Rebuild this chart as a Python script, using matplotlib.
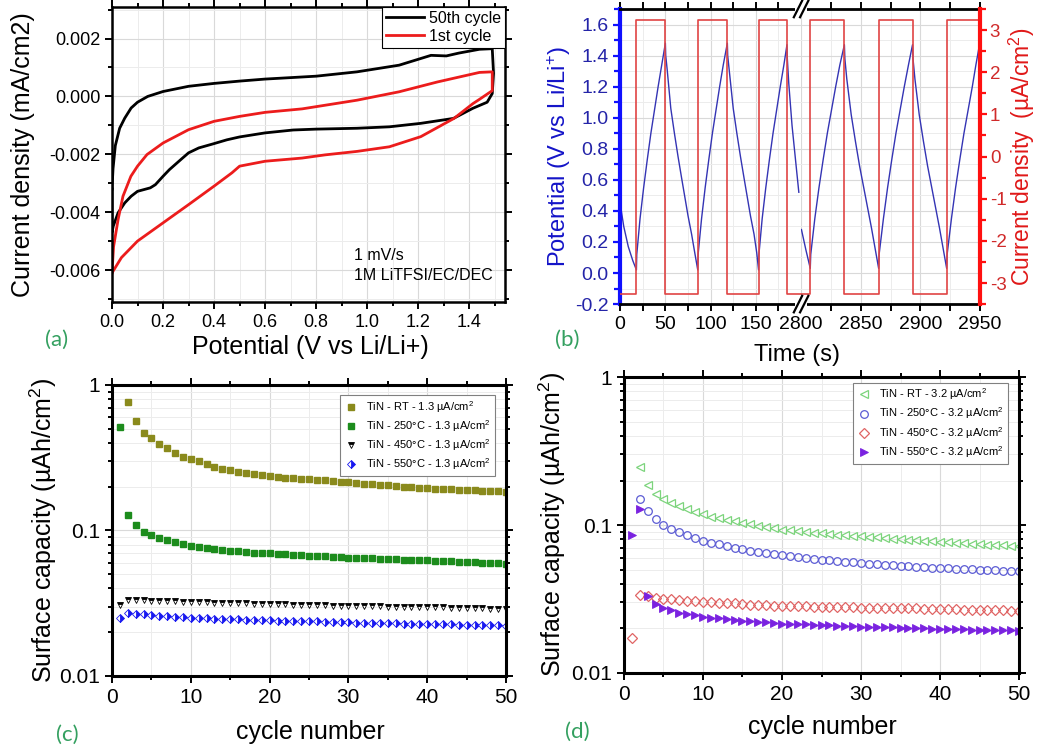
import numpy as np
import matplotlib
matplotlib.use('Agg')
from matplotlib import pyplot as plt
from matplotlib.ticker import MultipleLocator, FixedLocator, NullFormatter, LogLocator, FuncFormatter
from matplotlib.lines import Line2D
from matplotlib.patches import Rectangle

plt.rcParams['font.family'] = ['Liberation Sans', 'DejaVu Sans']
plt.rcParams['mathtext.fontset'] = 'custom'
plt.rcParams['mathtext.rm'] = 'Liberation Sans'
plt.rcParams['mathtext.it'] = 'Liberation Sans:italic'
plt.rcParams['mathtext.bf'] = 'Liberation Sans:bold'
plt.rcParams['axes.unicode_minus'] = False

# ---- (a) cyclic voltammetry
cv50_v = [0.0, 0.004, 0.013, 0.03, 0.05, 0.075, 0.1, 0.14, 0.2, 0.3, 0.4, 0.5, 0.6, 0.7, 0.8,
          0.96, 1.125, 1.25, 1.31, 1.36, 1.44, 1.49, 1.495, 1.49, 1.47, 1.414, 1.338, 1.21,
          1.087, 0.96, 0.8, 0.71, 0.6, 0.5, 0.45, 0.4, 0.34, 0.3, 0.27, 0.225, 0.2, 0.17,
          0.15, 0.125, 0.1, 0.075, 0.05, 0.024, 0.005, 0.0, 0.0]
cv50_j = [-0.0032, -0.0025, -0.0017, -0.0011, -0.00075, -0.0004, -0.0002, 0.0, 0.00017,
          0.00035, 0.00045, 0.00053, 0.0006, 0.00065, 0.0007, 0.00085, 0.00108, 0.00142,
          0.0014, 0.0015, 0.00163, 0.00165, 0.0008, 0.0001, -0.0002, -0.00041, -0.00076,
          -0.00093, -0.00105, -0.0011, -0.00113, -0.00116, -0.00126, -0.0014, -0.0015,
          -0.00163, -0.00178, -0.00195, -0.00218, -0.00253, -0.00276, -0.00305, -0.00316,
          -0.00322, -0.00328, -0.00345, -0.00368, -0.00402, -0.00448, -0.0047, -0.0032]
cv1_v = [0.0, 0.006, 0.024, 0.043, 0.074, 0.1, 0.137, 0.2, 0.3, 0.4, 0.5, 0.6, 0.745, 0.96,
         1.125, 1.275, 1.44, 1.49, 1.49, 1.44, 1.414, 1.34, 1.21, 1.087, 0.96, 0.835, 0.745,
         0.6, 0.5, 0.47, 0.4, 0.3, 0.2, 0.1, 0.037, 0.0]
cv1_j = [-0.0061, -0.0052, -0.00425, -0.00345, -0.00276, -0.00241, -0.00201, -0.00161,
         -0.00115, -0.00086, -0.00069, -0.00055, -0.00043, -0.00013, 0.00016, 0.0005,
         0.00083, 0.00085, 0.0002, -0.0001, -0.00025, -0.00076, -0.00139, -0.00174, -0.0019,
         -0.00202, -0.00213, -0.00224, -0.00241, -0.00264, -0.0031, -0.00374, -0.00437,
         -0.005, -0.00557, -0.0061]

# ---- (b) galvanostatic cycling
pot_t_left = [0, 4, 9, 14, 18,
              18.4, 22, 26, 30, 34, 38, 42, 46, 50,
              50.4, 52, 56, 60, 64, 68, 71.5, 75, 79, 82.5, 85.8,
              86.2, 90, 94, 98, 102, 106, 110, 114, 118.5,
              118.9, 120.5, 125, 129, 133, 137, 140.5, 144, 148, 151, 153,
              153.4, 157, 161, 165, 169, 173, 177, 181, 184.4,
              184.8, 186.4, 190, 194, 197.5]
pot_v_left = [0.45, 0.30, 0.17, 0.08, 0.02,
              0.12, 0.35, 0.55, 0.73, 0.90, 1.05, 1.20, 1.34, 1.48,
              1.40, 1.31, 1.06, 0.90, 0.75, 0.61, 0.49, 0.37, 0.25, 0.13, 0.02,
              0.12, 0.35, 0.55, 0.73, 0.90, 1.05, 1.20, 1.34, 1.48,
              1.40, 1.31, 1.06, 0.90, 0.75, 0.61, 0.49, 0.37, 0.25, 0.13, 0.02,
              0.12, 0.35, 0.55, 0.73, 0.90, 1.05, 1.20, 1.34, 1.47,
              1.38, 1.22, 0.95, 0.72, 0.52]
pot_t_right = [2800.3, 2804, 2807.7,
               2808.1, 2811.5, 2815, 2818.5, 2822, 2825.5, 2829, 2832.5, 2836.3,
               2836.7, 2838.3, 2842, 2845.5, 2849, 2852.5, 2856, 2859, 2862, 2865,
               2865.4, 2869, 2872.5, 2876, 2879.5, 2883, 2886.5, 2890, 2893.4,
               2893.8, 2895.4, 2899, 2902.5, 2906, 2909.5, 2913, 2916, 2919, 2922,
               2922.4, 2926, 2929.5, 2933, 2936.5, 2940, 2943.5, 2946.5, 2949.5]
pot_v_right = [0.28, 0.15, 0.03,
               0.12, 0.35, 0.55, 0.73, 0.90, 1.05, 1.20, 1.34, 1.47,
               1.38, 1.25, 1.02, 0.85, 0.69, 0.55, 0.41, 0.29, 0.16, 0.03,
               0.12, 0.35, 0.55, 0.73, 0.90, 1.05, 1.20, 1.34, 1.47,
               1.38, 1.25, 1.02, 0.85, 0.69, 0.55, 0.41, 0.29, 0.16, 0.03,
               0.12, 0.35, 0.55, 0.73, 0.90, 1.05, 1.20, 1.34, 1.47]
cur_t_left = [0, 18, 50, 85.8, 118.5, 153, 184.4, 200]
cur_j_left = [-3.25, 3.25, -3.25, 3.25, -3.25, 3.25, -3.25, -3.25]
cur_t_right = [2800, 2807.7, 2836.3, 2865, 2893.4, 2922, 2950]
cur_j_right = [-3.25, 3.25, -3.25, 3.25, -3.25, 3.25, 3.25]

# ---- (c), (d) capacity vs cycle number
cycles = list(range(1, 51))
nan = float('nan')
rt_13 = [nan, 0.76, 0.57, 0.47, 0.43, 0.394, 0.366, 0.343, 0.322, 0.309,
         0.298, 0.285, 0.275, 0.266, 0.261, 0.254, 0.248, 0.244, 0.239, 0.235,
         0.232, 0.230, 0.228, 0.226, 0.225, 0.223, 0.221, 0.219, 0.217, 0.214,
         0.212, 0.210, 0.208, 0.206, 0.204, 0.202, 0.200, 0.198, 0.197, 0.195,
         0.194, 0.193, 0.192, 0.191, 0.190, 0.189, 0.188, 0.187, 0.186, 0.185]
t250_13 = [0.512, 0.128, 0.109, 0.098, 0.093, 0.0886, 0.0854, 0.0827, 0.081, 0.0785,
           0.077, 0.0757, 0.0745, 0.0735, 0.0726, 0.0718, 0.0711, 0.0705, 0.0700, 0.0695,
           0.0690, 0.0685, 0.0680, 0.0676, 0.0672, 0.0668, 0.0664, 0.0660, 0.0656, 0.0652,
           0.0649, 0.0646, 0.0643, 0.0640, 0.0637, 0.0634, 0.0631, 0.0628, 0.0625, 0.0622,
           0.0619, 0.0616, 0.0613, 0.0610, 0.0607, 0.0604, 0.0601, 0.0598, 0.0595, 0.0592]
t450_13 = [0.0309, 0.0334, 0.0333, 0.0332, 0.0330, 0.0329, 0.0327, 0.0326, 0.0324, 0.0322,
           0.0321, 0.0320, 0.0319, 0.0318, 0.0317, 0.0316, 0.0315, 0.0314, 0.0313, 0.0312,
           0.0311, 0.0310, 0.0309, 0.0308, 0.0307, 0.0306, 0.0306, 0.0305, 0.0304, 0.0304,
           0.0303, 0.0302, 0.0302, 0.0301, 0.0300, 0.0300, 0.0299, 0.0299, 0.0298, 0.0298,
           0.0297, 0.0296, 0.0295, 0.0294, 0.0293, 0.0292, 0.0291, 0.0290, 0.0289, 0.0288]
t550_13 = [0.0250, 0.0271, 0.0268, 0.0265, 0.0262, 0.0259, 0.0257, 0.0255, 0.0253, 0.0251,
           0.0250, 0.0249, 0.0248, 0.0247, 0.0246, 0.0245, 0.0244, 0.0243, 0.0242, 0.0241,
           0.0240, 0.0239, 0.0239, 0.0238, 0.0237, 0.0237, 0.0236, 0.0235, 0.0235, 0.0234,
           0.0233, 0.0233, 0.0232, 0.0231, 0.0231, 0.0230, 0.0229, 0.0229, 0.0228, 0.0228,
           0.0227, 0.0227, 0.0226, 0.0225, 0.0225, 0.0224, 0.0224, 0.0223, 0.0223, 0.0222]
rt_32 = [nan, 0.245, 0.187, 0.163, 0.149, 0.142, 0.134, 0.128, 0.123, 0.118,
         0.114, 0.111, 0.108, 0.106, 0.103, 0.101, 0.099, 0.097, 0.095, 0.093,
         0.092, 0.091, 0.090, 0.089, 0.088, 0.087, 0.086, 0.0853, 0.0846, 0.0838,
         0.0831, 0.0824, 0.0817, 0.0810, 0.0803, 0.0796, 0.0789, 0.0782, 0.0775, 0.0768,
         0.0763, 0.0758, 0.0753, 0.0748, 0.0743, 0.0738, 0.0733, 0.0728, 0.0723, 0.0718]
t250_32 = [nan, 0.151, 0.124, 0.110, 0.100, 0.094, 0.0893, 0.0857, 0.0814, 0.078,
           0.076, 0.0742, 0.0725, 0.0705, 0.0687, 0.0672, 0.0658, 0.0645, 0.0634, 0.0623,
           0.0614, 0.0605, 0.0597, 0.0590, 0.0583, 0.0577, 0.0571, 0.0565, 0.0559, 0.0554,
           0.0548, 0.0543, 0.0538, 0.0533, 0.0528, 0.0525, 0.0522, 0.0519, 0.0516, 0.0513,
           0.0510, 0.0507, 0.0505, 0.0502, 0.0500, 0.0497, 0.0495, 0.0492, 0.0490, 0.0487]
t450_32 = [0.0172, 0.0335, 0.0331, 0.0323, 0.0318, 0.0314, 0.0311, 0.0308, 0.0305, 0.0303,
           0.0301, 0.0299, 0.0297, 0.0295, 0.0292, 0.0290, 0.0289, 0.0287, 0.0285, 0.0284,
           0.0283, 0.0283, 0.0282, 0.0281, 0.0281, 0.0280, 0.0279, 0.0279, 0.0278, 0.0277,
           0.0277, 0.0276, 0.0275, 0.0275, 0.0274, 0.0273, 0.0273, 0.0272, 0.0271, 0.0270,
           0.0269, 0.0269, 0.0268, 0.0267, 0.0267, 0.0266, 0.0265, 0.0265, 0.0264, 0.0263]
t550_32 = [0.0857, 0.129, 0.0331, 0.0294, 0.0274, 0.0266, 0.0256, 0.0250, 0.0245, 0.0240,
           0.0237, 0.0234, 0.0231, 0.0228, 0.0226, 0.0224, 0.0222, 0.0220, 0.0218, 0.0216,
           0.0215, 0.0214, 0.0213, 0.0212, 0.0211, 0.0210, 0.0209, 0.0208, 0.0207, 0.0206,
           0.0205, 0.0204, 0.0204, 0.0203, 0.0202, 0.0201, 0.0200, 0.0200, 0.0199, 0.0198,
           0.0198, 0.0197, 0.0197, 0.0196, 0.0196, 0.0195, 0.0195, 0.0194, 0.0194, 0.0193]

labels_13 = ['TiN - RT - 1.3 µA/cm$^2$', 'TiN - 250°C - 1.3 µA/cm$^2$',
             'TiN - 450°C - 1.3 µA/cm$^2$', 'TiN - 550°C - 1.3 µA/cm$^2$']
labels_32 = ['TiN - RT - 3.2 µA/cm$^2$', 'TiN - 250°C - 3.2 µA/cm$^2$',
             'TiN - 450°C - 3.2 µA/cm$^2$', 'TiN - 550°C - 3.2 µA/cm$^2$']

GRID = '#d9d9d9'
GRID2 = '#ececec'
PANEL = '#34a060'

fig = plt.figure(figsize=(10.37, 7.49), dpi=100)


def style_box(ax, lw, size):
    for s in ax.spines.values():
        s.set_linewidth(lw)
    ax.tick_params(which='both', direction='out', top=True, right=True,
                   labelsize=size, width=1.4)
    ax.tick_params(which='major', length=5)
    ax.tick_params(which='minor', length=3)
    ax.grid(True, which='major', color=GRID, lw=0.8)
    ax.grid(True, which='minor', color=GRID2, lw=0.7)
    ax.set_axisbelow(True)


def place_labels(ax, xl, yl, size):
    ax.set_xlabel(xl[0], fontsize=size, va='center', ha='center')
    ax.xaxis.set_label_coords(xl[1], xl[2])
    ax.set_ylabel(yl[0], fontsize=size, va='center', ha='center')
    ax.yaxis.set_label_coords(yl[1], yl[2])


# ================= (a)
axa = fig.add_axes([0.108, 0.597, 0.379, 0.394])
axa.plot(cv50_v, cv50_j, color='black', lw=2.0, label='50th cycle')
axa.plot(cv1_v, cv1_j, color='#ec1c1c', lw=2.0, label='1st cycle')
axa.set_xlim(0, 1.54)
axa.set_ylim(-0.0071, 0.0031)
axa.xaxis.set_major_locator(MultipleLocator(0.2))
axa.xaxis.set_minor_locator(MultipleLocator(0.1))
axa.yaxis.set_major_locator(MultipleLocator(0.002))
axa.yaxis.set_minor_locator(MultipleLocator(0.001))
axa.xaxis.set_major_formatter(FuncFormatter(lambda v, p: '%.1f' % v))
axa.yaxis.set_major_formatter(FuncFormatter(lambda v, p: '%.3f' % v))
style_box(axa, 1.8, 13)
place_labels(axa, ('Potential (V vs Li/Li+)', 0.504, -0.153),
             ('Current density (mA/cm2)', -0.226, 0.5), 18)
leg = axa.legend(loc='upper right', fontsize=11.5, frameon=True, fancybox=False,
                 edgecolor='black', framealpha=1, borderpad=0.25, labelspacing=0.2,
                 handlelength=2.4, handletextpad=0.3, borderaxespad=0.0)
leg.get_frame().set_linewidth(0.8)
axa.text(0.95, -0.0055, '1 mV/s', fontsize=11.5, va='center')
axa.text(0.95, -0.0062, '1M LiTFSI/EC/DEC', fontsize=11.5, va='center')

# ================= (b)
pos_y, pos_h = 0.594, 0.394
axb1 = fig.add_axes([0.598, pos_y, 0.1745, pos_h])
axb2 = fig.add_axes([0.7725, pos_y, 0.1726, pos_h], sharey=axb1)
axb1r = axb1.twinx()
axb2r = axb2.twinx()
axb2r.sharey(axb1r)

axb1.plot(pot_t_left, pot_v_left, color='#3434b4', lw=1.0)
axb2.plot(pot_t_right, pot_v_right, color='#3434b4', lw=1.0)
axb1r.plot(cur_t_left, cur_j_left, color='#e04444', lw=1.2, drawstyle='steps-post')
axb2r.plot(cur_t_right, cur_j_right, color='#e04444', lw=1.2, drawstyle='steps-post')

axb1.set_xlim(0, 200)
axb2.set_xlim(2800, 2950)
axb1.set_ylim(-0.2, 1.7)
axb1r.set_ylim(-3.5, 3.5)

for ax in (axb1, axb2):
    ax.xaxis.set_minor_locator(MultipleLocator(25))
    ax.yaxis.set_major_locator(MultipleLocator(0.2))
    ax.yaxis.set_minor_locator(MultipleLocator(0.1))
    ax.grid(True, which='major', color=GRID, lw=0.8)
    ax.grid(True, which='minor', color=GRID2, lw=0.7)
    ax.set_axisbelow(True)
    ax.spines['top'].set_linewidth(2.0)
    ax.spines['bottom'].set_linewidth(2.0)
    ax.tick_params(axis='x', which='both', direction='out', top=True, labelsize=14, width=1.4)
    ax.tick_params(axis='x', which='major', length=5)
    ax.tick_params(axis='x', which='minor', length=5)
axb1.xaxis.set_major_locator(FixedLocator([0, 50, 100, 150]))
axb2.xaxis.set_major_locator(FixedLocator([2800, 2850, 2900, 2950]))

axb1.spines['right'].set_visible(False)
axb2.spines['left'].set_visible(False)
axb1.spines['left'].set_color('#1010ff')
axb1.spines['left'].set_linewidth(3)
axb1.yaxis.set_major_formatter(FuncFormatter(lambda v, p: '%.1f' % v))
axb1.tick_params(axis='y', which='both', direction='out', colors='#1010ff',
                 labelcolor='#2424a8', labelsize=14, width=1.6)
axb1.tick_params(axis='y', which='major', length=5)
axb1.tick_params(axis='y', which='minor', length=4)
axb2.tick_params(axis='y', which='both', left=False, labelleft=False)

for ax in (axb1r, axb2r):
    for s in ax.spines.values():
        s.set_visible(False)
axb1r.tick_params(axis='y', which='both', right=False, labelright=False)
axb2r.spines['right'].set_visible(True)
axb2r.spines['right'].set_color('#ff1010')
axb2r.spines['right'].set_linewidth(3)
axb2r.yaxis.set_major_locator(MultipleLocator(1))
axb2r.yaxis.set_minor_locator(MultipleLocator(0.5))
axb2r.yaxis.set_major_formatter(FuncFormatter(lambda v, p: '%d' % round(v)))
axb2r.tick_params(axis='y', which='both', direction='out', colors='#ff1010',
                  labelcolor='#d02a2a', labelsize=13.5, width=1.6, pad=2)
axb2r.tick_params(axis='y', which='major', length=5)
axb2r.tick_params(axis='y', which='minor', length=4)

axb1.set_ylabel('Potential (V vs Li/Li$^{+}$)', fontsize=17, color='#1414c8',
                va='center', ha='center')
axb1.yaxis.set_label_coords(-0.337, 0.5)
axb1.set_xlabel('Time (s)', fontsize=17, va='center', ha='center')
axb1.xaxis.set_label_coords(0.978, -0.173)
axb2r.set_ylabel('Current density  (µA/cm$^{2}$)', fontsize=16.5, color='#e01818',
                 va='center', ha='center', rotation=90)
axb2r.yaxis.set_label_coords(1.235, 0.5)

# axis break marks
brk_x = 0.7725
for yy in (pos_y, pos_y + pos_h):
    fig.add_artist(Rectangle((brk_x - 0.006, yy - 0.008), 0.012, 0.016,
                             transform=fig.transFigure, fc='white', ec='none', zorder=5))
    for dx in (-0.003, 0.003):
        fig.add_artist(Line2D([brk_x + dx - 0.004, brk_x + dx + 0.004],
                              [yy - 0.011, yy + 0.011], transform=fig.transFigure,
                              color='black', lw=1.6, zorder=6))

# ================= (c) and (d)
def cap_axes(rect):
    ax = fig.add_axes(rect)
    ax.set_yscale('log')
    ax.set_xlim(0, 50)
    ax.set_ylim(0.01, 1)
    ax.xaxis.set_major_locator(MultipleLocator(10))
    ax.xaxis.set_minor_locator(MultipleLocator(5))
    ax.yaxis.set_major_locator(FixedLocator([0.01, 0.1, 1]))
    ax.yaxis.set_minor_locator(LogLocator(base=10, subs=np.arange(2, 10)))
    ax.yaxis.set_major_formatter(FuncFormatter(lambda v, p: '%g' % v))
    ax.yaxis.set_minor_formatter(NullFormatter())
    style_box(ax, 2.2, 15)
    return ax


axc = cap_axes([0.108, 0.0975, 0.380, 0.3885])
axc.plot(cycles, rt_13, 's', ms=5, color='#8a8a1c', label=labels_13[0])
axc.plot(cycles, t250_13, 's', ms=5, color='#1c8c1c', label=labels_13[1])
axc.plot(cycles, t450_13, 'v', ms=5, mec='black', mfc='black', markerfacecoloralt='white',
         fillstyle='top', mew=0.6, label=labels_13[2])
axc.plot(cycles, t550_13, 'D', ms=4.5, mec='#1818f0', mfc='#1818f0', markerfacecoloralt='white',
         fillstyle='right', mew=0.6, label=labels_13[3])
place_labels(axc, ('cycle number', 0.503, -0.192),
             ('Surface capacity (µAh/cm$^{2}$)', -0.175, 0.5), 18)
lc = axc.legend(loc='upper right', fontsize=8, fancybox=False, edgecolor='#808080',
                framealpha=1, borderpad=0.35, labelspacing=0.3, handlelength=1.2,
                handletextpad=0.8, bbox_to_anchor=(0.985, 0.985))
lc.get_frame().set_linewidth(0.8)

axd = cap_axes([0.6017, 0.1015, 0.381, 0.395])
axd.plot(cycles, rt_32, '<', ms=6, mfc='none', mec='#7cd47c', mew=0.9, label=labels_32[0])
axd.plot(cycles, t250_32, 'o', ms=5.5, mfc='none', mec='#5c5cd4', mew=0.9, label=labels_32[1])
axd.plot(cycles, t450_32, 'D', ms=5, mfc='none', mec='#e06464', mew=0.9, label=labels_32[2])
axd.plot(cycles, t550_32, '>', ms=6, color='#7a22e0', mec='#7a22e0', mew=0.6,
         label=labels_32[3])
place_labels(axd, ('cycle number', 0.501, -0.182),
             ('Surface capacity (µAh/cm$^{2}$)', -0.182, 0.5), 18)
ld = axd.legend(loc='upper right', fontsize=8, fancybox=False, edgecolor='#808080',
                framealpha=1, borderpad=0.35, labelspacing=0.3, handlelength=1.2,
                handletextpad=0.8, bbox_to_anchor=(0.985, 1.0))
ld.get_frame().set_linewidth(0.8)

# panel tags
for x, y, t in [(57, 340, '(a)'), (567, 340, '(b)'), (67, 735, '(c)'), (577, 732, '(d)')]:
    fig.text(x / 1037, 1 - y / 749, t, color=PANEL, fontsize=16, family='Lato',
             ha='center', va='center')

fig.savefig('out.png', dpi=100)
